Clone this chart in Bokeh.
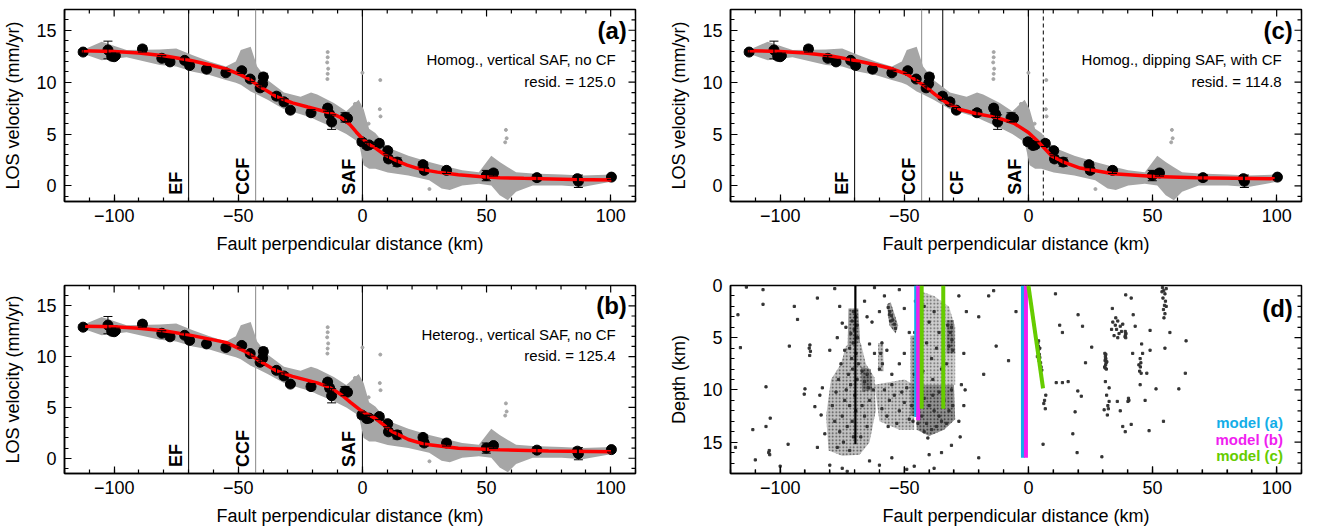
import math
from bokeh.plotting import figure
from bokeh.layouts import gridplot
from bokeh.models import (Range1d, SingleIntervalTicker, Label, Span,
                          Whisker, ColumnDataSource, TeeHead)
from bokeh.embed import file_html
from bokeh.resources import INLINE

FONT = "Liberation Sans"

# ---------------- data ----------------
# binned LOS velocities (black dots) with 1-sigma errors
bin_x = [-112.5, -102.5, -101, -100, -99.5, -88.6, -80.8, -77.5, -71.6, -69.6, -62.8, -55, -48.6,
         -45.2, -41.2, -40.2, -39.9, -34.6, -31.6, -29, -20.7, -14, -13.2, -12.4, -7, -6, -0.2,
         1.8, 2.7, 6.8, 10.2, 10.5, 14, 24.4, 24.9, 33.9, 49.9, 52.8, 70.3, 86.6, 87, 100.3]
bin_v = [12.9, 13.1, 12.5, 12.45, 12.55, 13.2, 12.3, 11.95, 12.1, 11.6, 11.25, 10.9, 11.1,
         10.3, 9.45, 9.85, 10.5, 8.65, 8.1, 7.3, 7.05, 7.5, 6.9, 6.15, 6.6, 6.5, 4.25,
         3.9, 3.95, 4.1, 3.4, 2.6, 2.3, 2.05, 1.5, 1.5, 1.0, 1.25, 0.8, 0.7, 0.45, 0.85]
bin_err = [0.25, 0.85, 0.3, 0.25, 0.25, 0.3, 0.25, 0.25, 0.25, 0.25, 0.25, 0.25, 0.25,
           0.25, 0.3, 0.3, 0.35, 0.3, 0.3, 0.25, 0.3, 0.3, 0.3, 0.7, 0.45, 0.3, 0.3,
           0.3, 0.3, 0.3, 0.3, 0.3, 0.4, 0.3, 0.3, 0.3, 0.5, 0.3, 0.3, 0.3, 0.6, 0.25]

# best-fit model curves
model_a_x = [-113, -100, -90, -80, -70, -62, -55, -49, -45, -41.6, -38, -34.9, -28.2, -22, -18.2,
             -14, -11, -8, -5, -2.5, 0.2, 3, 5.2, 9, 13.5, 18, 21.9, 26, 30.2, 38.6, 47,
             55.3, 65, 72, 85, 100.3]
model_a_v = [13.03, 12.95, 12.8, 12.55, 12.14, 11.7, 11.28, 10.7, 10.2, 9.6, 9.1, 8.64, 8.0, 7.6,
             7.37, 7.1, 6.85, 6.5, 5.9, 5.2, 4.5, 3.95, 3.65, 3.0, 2.45, 2.0, 1.72, 1.5, 1.33,
             1.08, 0.92, 0.79, 0.73, 0.7, 0.62, 0.56]
model_b_x = [-111.7, -100, -90, -80, -70, -62, -55, -46.6, -41.6, -34.9, -28.2, -18.2, -14,
             -11, -8, -4.8, 0.2, 5.2, 11.9, 18.5, 25.2, 38.6, 55.3, 75, 100.3]
model_b_v = [13.0, 12.95, 12.8, 12.55, 12.14, 11.75, 11.4, 10.45, 9.59, 8.63, 8.06, 7.42, 7.05,
             6.65, 6.15, 5.5, 4.55, 3.92, 2.64, 1.85, 1.37, 0.99, 0.83, 0.72, 0.64]
model_c_x = [-113, -100, -90, -80, -70.8, -62, -55.8, -49.2, -42.5, -37.5, -32.5, -27.5, -20.8,
             -12.5, -5.8, 0, 4.2, 9.2, 14.2, 20.8, 34.2, 50.8, 67.5, 99.2]
model_c_v = [13.03, 12.95, 12.8, 12.55, 12.14, 11.7, 11.34, 10.8, 9.75, 8.8, 7.94, 7.37, 6.96,
             6.58, 6.04, 5.15, 4.2, 2.92, 2.29, 1.72, 1.18, 0.92, 0.79, 0.7]

# InSAR pixel cloud (grey): upper / lower envelope
cloud_x = [-113, -110.8, -105, -95, -81.6, -75, -68.3, -61.6, -55, -51, -49, -45, -42.4, -38.2,
           -31.6, -24.9, -20.7, -18.2, -11.5, -6.5, -1.5, 0.5, 2.7, 5.2, 10.2, 18.5, 26.9,
           31.9, 35.2, 40.2, 46.9, 51.9, 55.3, 58.6, 61.9, 68.6, 80.3, 88.6, 101.2]
cloud_hi = [13.2, 13.3, 13.9, 13.1, 13.15, 13.25, 12.6, 12.0, 11.5, 12.0, 13.1, 13.4, 11.5, 10.2,
            9.0, 8.6, 9.0, 8.8, 8.0, 7.2, 8.3, 7.4, 5.5, 5.1, 3.7, 2.9, 2.3,
            2.0, 1.8, 1.5, 1.33, 2.9, 2.3, 1.8, 1.33, 1.2, 1.1, 1.0, 1.1]
cloud_lo = [12.6, 12.6, 12.1, 12.4, 11.66, 11.5, 11.0, 10.7, 10.2, 9.95, 9.75, 9.1, 8.8, 8.3,
            7.4, 6.9, 6.6, 6.3, 5.6, 5.0, 4.2, 2.0, 1.65, 1.65, 1.3, 1.0, 0.55,
            -0.25, -0.4, 0.05, 0.2, 0.05, -0.9, -1.37, -0.57, 0.05, 0.05, -0.1, 0.45]
out_x = [-14, -14, -14.2, -13.8, -14, -14.1, 0, 7.2, 7, 7.3, 57.8, 58.1, 57.5, -3, 2.5, 4.5, 27]
out_v = [12.9, 12.4, 11.9, 11.3, 10.8, 10.3, 10.9, 10.2, 7.4, 6.7, 5.4, 4.6, 4.2, 7.9, 6.0, 3.1, -0.3]

# fault locations (km)
fault_names = ["EF", "CCF", "SAF"]
fault_pos = [-70, -43, 0]
cf_pos = -34.5
dip_top_pos = 6

# seismicity (panel d): dense zones (polygons) and individual events
zone_x = [[-72.5, -68.5, -67.8, -72.8],
          [-73.5, -67.5, -65.5, -62, -61.5, -64, -68, -75, -80.5, -81.5, -79.5, -75.5],
          [-67.5, -63.5, -63, -67],
          [-57, -55.5, -52.5, -53.5, -56],
          [-62, -50, -46, -46, -52, -60],
          [-45, -30, -29.5, -34, -40, -45],
          [-44, -38, -32, -29.5, -29.5, -44.5, -44.5],
          [-33, -30, -29.5, -33],
          [-47.5, -45, -44.8, -47.5],
          [-60.5, -58.5, -58.3, -60.5]]
zone_z = [[2.2, 2.2, 5.5, 5.8],
          [5.8, 5.5, 7.5, 8.8, 12, 15, 16.2, 16.3, 15.8, 12.5, 9, 7.5],
          [7.8, 8, 10, 10.2],
          [1.8, 1.6, 3.8, 4.6, 3.8],
          [9.5, 9, 9.5, 13.8, 13.8, 13],
          [9.5, 9.5, 12.8, 13.8, 14.4, 13.8],
          [0.5, 1, 2, 4, 9.5, 9.5, 1],
          [3.3, 3.3, 6.5, 6.5],
          [4.8, 4.8, 12.5, 12.5],
          [5.5, 5.5, 8.2, 8.2]]
zone_density = [0.8, 0.5, 0.8, 0.8, 0.45, 0.9, 0.4, 0.7, 0.7, 0.5]

eq_x = [-113.6, -106.9, -106.9, -94.3, -117, -93, -96.3, -116, -88, -88.3, -87.8, -88.1, -105.7, -90,
        -90.3, -86, -104, -105.7, -104.4, -104.6, -104.2, -110, -100, -118, -96.8, -111, -84, -83,
        -83.5, -82, -85, -80, -75, -73, -64, -60, -55, -49, -46, -40, -38, -35, -31,
        -78, -85, -62, -58, -52, -60, -63, -50, -48, -76, -75, -77, -80, -66, -65, -64, -62, -59,
        -59.5, -58.8, -60, -57, -50, -52, -55, -28, -25, -26, -27, -25.5, -26, -28, -27.5, -20,
        -18, -13, -14, -8, -16, -5, -20,
        3.8, 4.0, 4.2, 3.9, 4.4, 4.6, 4.3, 4.9, 5.1, 4.6, 3.6, 5.4, 4.1, 7, 6.5, 6.8,
        30.8, 31.0, 31.2, 30.9, 31.3, 31.1, 30.7, 31.4, 31.0, 31.2, 31.6, 30.9,
        34, 35, 35.5, 36, 36.5, 37, 34.5, 36, 37.5, 33.5, 35.2, 38,
        39, 39.1, 39.2, 38.9, 39.3, 45, 45.3, 45.1, 44.8, 45.4, 46, 44.5,
        54, 54.5, 55, 54.2, 55.2, 54.8, 54.4, 55, 55.5, 53.8, 55.5, 54.6,
        40.3, 40.5, 40.1, 31, 31.5, 32, 31.8, 32.5, 30.5,
        10.9, 12.6, 13.7, 21.8, 25.5, 23, 19.9, 21.3, 18.8, 17.9, 6.2, 5.9, 11.2, 13.7, 29.6, 19.6,
        38, 41.4, 48.6, 54.4, 51.4, 60.6, 63.2, 63.5, 47.7, 45.6, 49, 43, 33.8, 39.2, 41.4, 42.2,
        35.8, 32.5, 32.2, 16, 20, 45, 47, 37, 39, 55, 57, 42, 49,
        -70.5, -69.5, -71, -69, -70.2, -71.5, -68.8, -70.6, -72, -69.4, -71.2, -68.5, -70.8, -72.5,
        -69, -71.6, -73.4, -70, -74, -72, -69.5, -75, -71, -73, -76, -70.5, -74.5, -77, -72, -78,
        -79, -77.5, -76.5, -75.5, -74, -73.5, -67, -66, -65, -67.5, -64, -62.5, -65, -66, -64.5, -67,
        -58, -56, -54, -52, -50, -48, -57, -53, -49, -59, -55, -51, -47, -46.5, -56.5,
        -56.5, -55.8, -55.2, -54.6, -54, -53.5, -55.5, -56,
        -45.5, -44.8, -45.8, -44.5, -45, -46, -42, -40, -38, -36, -41, -39, -37, -35, -33, -38.5,
        -42.5, -32.5, -31.5, -30.8, -32, -31, -30.5,
        -44, -42, -40, -38, -36, -34, -32, -30.5, -43, -41, -39, -37, -35, -33, -44.5, -42, -40.5,
        -31, -36, -38.5]
eq_z = [0.15, 0.4, 1.8, 2.0, 2.8, 3.25, 5.8, 5.95, 5.7, 6.0, 6.3, 6.7, 9.7, 9.9,
        10.4, 11.6, 12.7, 13.5, 15.8, 16.0, 16.2, 16.7, 17.3, 15.5, 15.2, 13.8, 10.5, 9.8,
        12.4, 14.2, 15.5, 17.2, 17.5, 17.8, 16.8, 17.2, 16.5, 17.6, 17.3, 16.2, 17.5, 16.0, 15.3,
        0.3, 1.2, 0.2, 1.0, 0.4, 2.5, 3.5, 2.2, 4.5, 2.0, 3.6, 5.0, 6.2, 1.5, 3, 5.6, 6.5, 5.5,
        6.5, 7.5, 8.0, 6.2, 6.5, 7.5, 8.5, 1.0, 2.5, 6.5, 9.5, 10, 11.5, 13, 14.5, 16.5,
        8.5, 5.8, 0.5, 7.2, 1.0, 2.5, 3.0,
        5.5, 5.8, 6.1, 6.4, 6.6, 6.9, 7.2, 7.4, 7.8, 6.0, 6.8, 8.1, 5.3, 10.5, 11, 11.8,
        6.5, 6.8, 7.0, 7.2, 7.4, 7.6, 7.8, 8.0, 7.1, 6.6, 7.3, 7.9,
        3.5, 3.8, 4.2, 3.4, 4.6, 3.9, 4.8, 5.0, 4.4, 4.2, 3.1, 3.7,
        4.4, 4.7, 5.0, 4.9, 4.6, 7.0, 7.4, 7.8, 8.2, 8.4, 6.5, 7.6,
        0.2, 0.5, 0.8, 1.2, 1.5, 1.9, 2.3, 2.7, 0.3, 0.6, 2.0, 3.1,
        10.8, 11.0, 11.1, 9.2, 10.5, 11.5, 12.4, 9.8, 11.9,
        0.8, 3.8, 4.5, 3.9, 5.9, 7.4, 10.1, 10.6, 12.1, 14.2, 11.3, 15.2, 9.3, 9.3, 16.4, 16.0,
        13.5, 13.3, 13.9, 13.0, 9.9, 9.9, 8.4, 5.3, 8.4, 5.6, 6.2, 3.9, 2.2, 0.9, 1.2, 2.8,
        11.1, 11.1, 11.8, 9.2, 2.8, 9.5, 11, 12, 14, 6, 4.5, 6.5, 4.3,
        2.5, 3.0, 3.4, 3.8, 4.2, 4.6, 5.0, 5.5, 6.0, 6.5, 7.0, 7.5, 8.0, 8.5,
        9.0, 9.5, 10, 10.5, 11, 11.5, 12, 12.5, 13, 13.5, 14, 14.5, 15, 15.5, 15.8, 13,
        11.5, 10.2, 9, 7.5, 6.2, 4, 11.5, 12.5, 13.5, 14.5, 11, 10, 8.5, 9.2, 9.8, 8.2,
        10, 11, 10.5, 12, 11.2, 12.8, 12.5, 13.2, 9.8, 11.8, 9.5, 10.2, 11.5, 13, 13.5,
        2.1, 2.5, 2.9, 3.3, 3.7, 4.1, 3.4, 2.8,
        1.5, 3, 4.5, 6, 7.5, 8.5, 2, 3.5, 2.5, 4.5, 5.5, 7, 6, 8, 7.5, 9,
        8.2, 3.8, 4.5, 5.2, 5.8, 4.0, 6.2,
        10, 10.8, 11.5, 12, 12.5, 11, 12, 11.5, 12.5, 13.2, 13.8, 13.5, 13, 13.2, 13.2, 14, 14.6,
        10, 10.2, 10.5]

# model fault traces in depth section: (x_top, z_top, x_bottom, z_bottom)
model_names = ["model (a)", "model (b)", "model (c)"]
model_colors = ["#13aee8", "#f01ef0", "#66cc00"]
fault_a = [(-45.2, 0, -45.2, 12.6), (-2.2, 0, -2.2, 16.5)]
fault_b = [(-44.4, 0, -44.4, 12.9), (-1.0, 0, -1.0, 16.5)]
fault_c = [(-43.0, 0, -43.0, 11.8), (-34.3, 0, -34.3, 11.8), (0.0, 0, 5.9, 9.85)]
ef_trace = (-69.7, 0, -69.7, 15.2)

# ---------------- layout ----------------
W_FRAME, H_FRAME = 575, 192
X0, X1 = -120, 110


def box_ticks(p, ytop, ybot, flipped=False):
    """inward ticks on the top and right frame edges (mirror of bottom/left axes)"""
    xs = list(range(X0, X1 + 1, 10))
    xl = [7 if v % 50 == 0 else 4 for v in xs]
    top_val = ybot if flipped else ytop
    down = math.pi / 2 if flipped else -math.pi / 2
    p.ray(x=xs, y=[top_val] * len(xs), length=xl, angle=down, length_units="screen",
          line_color="black", line_width=1.2)
    lo, hi = (min(ytop, ybot), max(ytop, ybot))
    ys = [v for v in range(math.ceil(lo), math.floor(hi) + 1)]
    yl = [7 if v % 5 == 0 else 4 for v in ys]
    p.ray(x=[X1] * len(ys), y=ys, length=yl, angle=math.pi, length_units="screen",
          line_color="black", line_width=1.2)


def make_fig(bl, br, bt, bb, y0, y1):
    p = figure(width=bl + W_FRAME + br, height=bt + H_FRAME + bb,
               x_range=Range1d(X0, X1), y_range=Range1d(y0, y1),
               output_backend="svg", toolbar_location=None,
               min_border_left=bl, min_border_right=br,
               min_border_top=bt, min_border_bottom=bb)
    p.grid.visible = False
    p.outline_line_color = "black"
    p.outline_line_width = 1.5
    p.background_fill_color = "white"
    p.border_fill_color = "white"
    p.xaxis.ticker = SingleIntervalTicker(interval=50, num_minor_ticks=5)
    p.yaxis.ticker = SingleIntervalTicker(interval=5, num_minor_ticks=5)
    for ax in list(p.xaxis) + list(p.yaxis):
        ax.major_tick_in = 7
        ax.major_tick_out = 0
        ax.minor_tick_in = 4
        ax.minor_tick_out = 0
        ax.axis_line_width = 1.5
        ax.major_tick_line_width = 1.2
        ax.minor_tick_line_width = 1.2
        ax.major_label_text_font = FONT
        ax.major_label_text_font_size = "18px"
        ax.major_label_text_color = "black"
        ax.axis_label_text_font = FONT
        ax.axis_label_text_font_size = "18px"
        ax.axis_label_text_font_style = "normal"
        ax.axis_label_text_color = "black"
    p.xaxis.major_label_standoff = 7
    p.xaxis.axis_label_standoff = 9
    p.yaxis.major_label_standoff = 8
    p.yaxis.axis_label_standoff = 10
    p.xaxis.axis_label = "Fault perpendicular distance (km)"
    p.xaxis.major_label_overrides = {-100: "\u2212100", -50: "\u221250"}
    box_ticks(p, y1, y0, flipped=(y0 > y1))
    return p


def velocity_panel(p, letter, desc, resid, mx, mv, faults):
    p.yaxis[0].axis_label = "LOS velocity (mm/yr)"
    for name, pos, side, col in faults:
        p.add_layout(Span(location=pos, dimension="height", line_color=col,
                          line_width=1, level="underlay"))
    p.varea(x=cloud_x, y1=cloud_lo, y2=cloud_hi, fill_color="#a6a6a6")
    p.scatter(out_x, out_v, size=3, color="#a6a6a6")
    src = ColumnDataSource(dict(x=bin_x, lo=[v - e for v, e in zip(bin_v, bin_err)],
                                hi=[v + e for v, e in zip(bin_v, bin_err)]))
    p.add_layout(Whisker(source=src, base="x", lower="lo", upper="hi", line_color="black",
                         line_width=1, level="glyph",
                         upper_head=TeeHead(size=9, line_width=1, line_color="black"),
                         lower_head=TeeHead(size=9, line_width=1, line_color="black")))
    p.scatter(bin_x, bin_v, size=10, color="black")
    p.line(mx, mv, line_color="#ff0000", line_width=3.5)
    for name, pos, side, col in faults:
        p.add_layout(Label(x=pos, y=-0.85, text=name, angle=math.pi / 2,
                           x_offset=(-3 if side == "left" else 4),
                           text_align="left",
                           text_baseline=("bottom" if side == "left" else "top"),
                           text_font=FONT, text_font_style="bold", text_font_size="18px",
                           text_color="black"))
    p.add_layout(Label(x=106.5, y=15.0, text=letter, text_align="right", text_baseline="middle",
                       text_font=FONT, text_font_style="bold", text_font_size="24px",
                       text_color="black"))
    p.add_layout(Label(x=102, y=12.2, text=desc, text_align="right", text_baseline="middle",
                       text_font=FONT, text_font_size="15px", text_color="black"))
    p.add_layout(Label(x=102, y=10.1, text=resid, text_align="right", text_baseline="middle",
                       text_font=FONT, text_font_size="15px", text_color="black"))


basic_faults = [("EF", fault_pos[0], "left", "black"),
                ("CCF", fault_pos[1], "left", "#888888"),
                ("SAF", fault_pos[2], "left", "black")]

TOP1, BOT1, TOP2, BOT2 = 9, 76, 8, 51

pa = make_fig(60, 31, TOP1, BOT1, -1.5, 17)
velocity_panel(pa, "(a)", "Homog., vertical SAF, no CF", "resid. = 125.0",
               model_a_x, model_a_v, basic_faults)

pc = make_fig(60, 2, TOP1, BOT1, -1.5, 17)
c_faults = basic_faults + [("CF", cf_pos, "right", "black")]
velocity_panel(pc, "(c)", "Homog., dipping SAF, with CF", "resid. = 114.8",
               model_c_x, model_c_v, c_faults)
pc.add_layout(Span(location=dip_top_pos, dimension="height", line_color="black",
                   line_width=1, line_dash="4 3", level="underlay"))

pb = make_fig(60, 31, TOP2, BOT2, -1.5, 17)
velocity_panel(pb, "(b)", "Heterog., vertical SAF, no CF", "resid. = 125.4",
               model_b_x, model_b_v, basic_faults)

pd = make_fig(60, 2, TOP2, BOT2, 18, 0)
pd.yaxis[0].axis_label = "Depth (km)"
for zx, zz, dens in zip(zone_x, zone_z, zone_density):
    pd.patch(zx, zz, fill_color="#3a3a3a", fill_alpha=dens * 0.62, line_color=None,
             hatch_pattern="dot", hatch_scale=3.5, hatch_weight=1.6,
             hatch_color="#1e1e1e", hatch_alpha=min(1.0, dens + 0.25))
pd.scatter(eq_x, eq_z, marker="square", size=2.2, color="#333333")
pd.segment(x0=[ef_trace[0]], y0=[ef_trace[1]], x1=[ef_trace[2]], y1=[ef_trace[3]],
           line_color="black", line_width=2.2)
for segs, col in zip([fault_a, fault_b, fault_c], model_colors):
    pd.segment(x0=[s[0] for s in segs], y0=[s[1] for s in segs],
               x1=[s[2] for s in segs], y1=[s[3] for s in segs],
               line_color=col, line_width=4)
pd.add_layout(Label(x=106.5, y=2.2, text="(d)", text_align="right", text_baseline="middle",
                    text_font=FONT, text_font_style="bold", text_font_size="24px",
                    text_color="black"))
for i, (nm, col) in enumerate(zip(model_names, model_colors)):
    pd.add_layout(Label(x=102.5, y=13.15 + 1.55 * i, text=nm, text_align="right",
                        text_baseline="middle", text_font=FONT, text_font_style="bold",
                        text_font_size="15px", text_color=col))

grid = gridplot([[pa, pc], [pb, pd]], toolbar_location=None)

open("out.html", "w").write(file_html(grid, INLINE))
